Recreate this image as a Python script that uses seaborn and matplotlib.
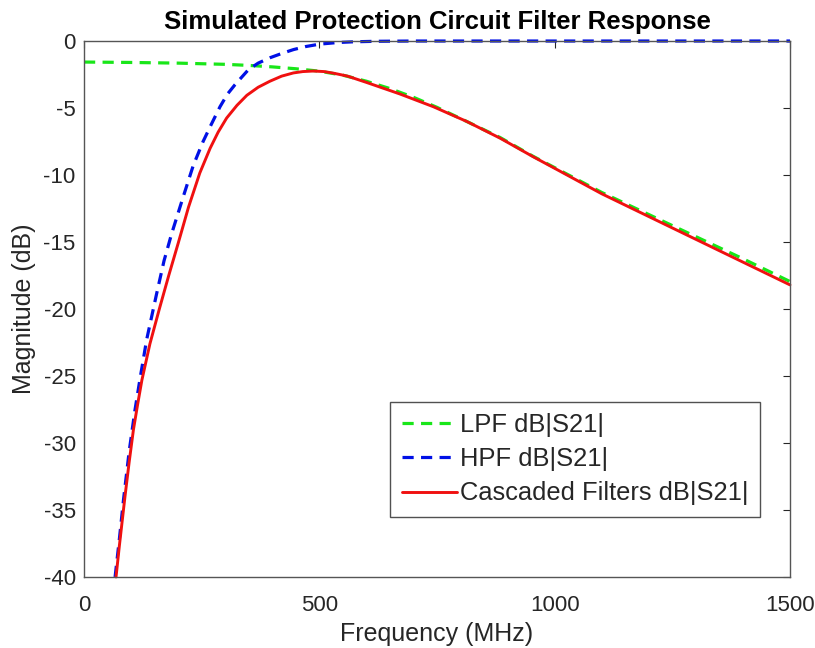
import numpy as np
import pandas as pd
import matplotlib
matplotlib.use('Agg')
import matplotlib.pyplot as plt
import seaborn as sns

# values (MHz, dB)
lpf_freq = [0, 100, 200, 300, 350, 400, 450, 500, 550, 600, 650, 700, 750,
            813, 884, 954, 1000, 1100, 1200, 1300, 1400, 1500]
lpf_db = [-1.57, -1.60, -1.65, -1.74, -1.82, -1.93, -2.07, -2.25, -2.55, -3.0,
          -3.55, -4.2, -4.95, -6.0, -7.2, -8.6, -9.45, -11.3, -12.95, -14.6,
          -16.25, -17.95]

hpf_freq = [66, 75, 84, 96, 108, 119, 133, 154, 170, 186, 211, 232, 253, 270,
            289, 305, 321, 349, 370, 395, 420, 445, 470, 501, 540, 572, 620,
            700, 1500]
hpf_db = [-40.0, -37.2, -34.2, -30.6, -27.6, -25.2, -22.3, -18.9, -16.4, -14.4,
          -11.6, -9.3, -7.5, -6.25, -4.9, -3.95, -3.25, -2.15, -1.65, -1.25,
          -0.93, -0.64, -0.42, -0.23, -0.11, -0.06, -0.02, 0.0, 0.0]

casc_freq = [68, 75, 87, 96, 105, 114, 123, 140, 160, 180, 200, 222, 246, 268,
             285, 303, 325, 346, 370, 395, 420, 445, 465, 487, 510, 530, 560,
             601, 671, 742, 813, 884, 955, 1000, 1100, 1200, 1300, 1400, 1500]
casc_db = [-40.0, -37.7, -34.0, -31.4, -29.0, -27.1, -25.3, -22.6, -20.0, -17.5,
           -15.1, -12.4, -9.85, -8.0, -6.8, -5.75, -4.8, -4.05, -3.45, -3.0,
           -2.62, -2.38, -2.28, -2.24, -2.28, -2.4, -2.62, -3.1, -3.95, -4.9,
           -6.0, -7.25, -8.65, -9.5, -11.4, -13.1, -14.8, -16.5, -18.2]

labels = ['LPF dB|S21|', 'HPF dB|S21|', 'Cascaded Filters dB|S21|']
x_ticks = [0, 500, 1000, 1500]
y_ticks = [-40, -35, -30, -25, -20, -15, -10, -5, 0]

sns.set_style('white')
plt.rcParams['font.family'] = ['Liberation Sans', 'DejaVu Sans']
plt.rcParams['axes.unicode_minus'] = False

fig = plt.figure(figsize=(8.15, 6.48), dpi=100)
ax = fig.add_axes([0.1031, 0.1096, 0.8662, 0.8271])

sns.lineplot(x=lpf_freq, y=lpf_db, ax=ax, color='#19e619', lw=2.3,
             linestyle=(0, (3.5, 2.3)), label=labels[0], sort=False, estimator=None)
sns.lineplot(x=hpf_freq, y=hpf_db, ax=ax, color='#0010e6', lw=2.3,
             linestyle=(0, (3.5, 2.3)), label=labels[1], sort=False, estimator=None)
sns.lineplot(x=casc_freq, y=casc_db, ax=ax, color='#f01010', lw=2.1,
             label=labels[2], sort=False, estimator=None)
for ln in ax.lines:
    ln.set_clip_on(False)

ax.set_xlim(0, 1500)
ax.set_ylim(-40, 0)
ax.set_xticks(x_ticks)
ax.set_yticks(y_ticks)
ax.tick_params(direction='in', top=True, right=True, length=5, width=0.8,
               labelsize=16, colors='#262626', pad=6)
ax.tick_params(axis='x', pad=13)
for sp in ax.spines.values():
    sp.set_color('#555555')
    sp.set_linewidth(1.0)

ax.set_xlabel('Frequency (MHz)', fontsize=18, color='#262626', labelpad=4)
ax.set_ylabel('Magnitude (dB)', fontsize=18, color='#262626', labelpad=5)
ax.set_title('Simulated Protection Circuit Filter Response', fontsize=18.5,
             fontweight='bold', color='black', pad=9)

leg = ax.legend(loc='lower right', bbox_to_anchor=(0.9575, 0.112), borderaxespad=0,
                fontsize=18.4, frameon=True, fancybox=False, handlelength=2.15,
                handletextpad=0.12, borderpad=0.45, labelspacing=0.4)
leg.get_frame().set_edgecolor('#262626')
leg.get_frame().set_linewidth(1.0)

fig.savefig('out.png', dpi=100, facecolor='white')
